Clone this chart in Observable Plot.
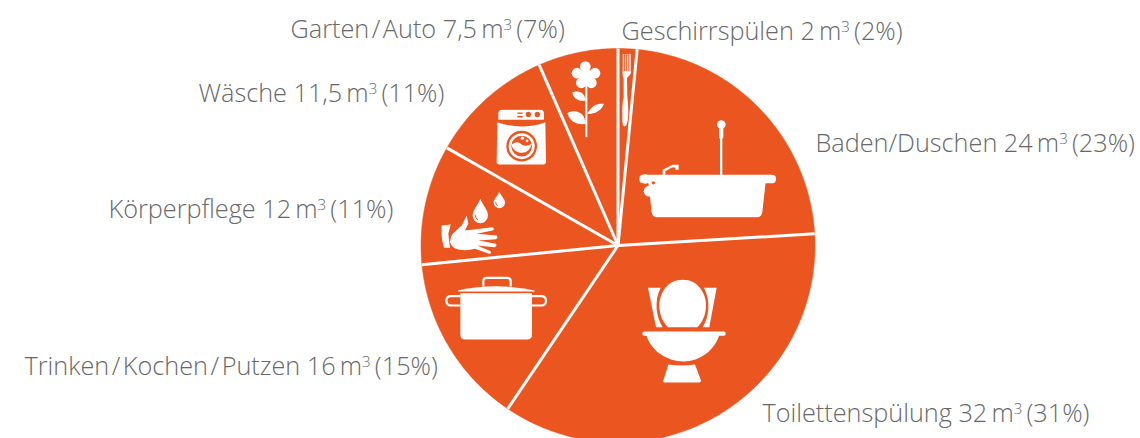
<!DOCTYPE html>
<html>
<head>
<meta charset="utf-8">
<script src="https://cdn.jsdelivr.net/npm/d3@7"></script>
<script src="https://cdn.jsdelivr.net/npm/@observablehq/plot@0.6"></script>
<style>html,body{margin:0;padding:0;background:#fff;overflow:hidden}svg{display:block}</style>
</head>
<body>
<div id="chart"></div>
<script>
const categories = ["Geschirrspülen","Baden/Duschen","Toilettenspülung","Trinken\u200a/\u200aKochen\u200a/\u200aPutzen","Körperpflege","Wäsche","Garten\u200a/\u200aAuto"];
const volumes = ["2","24","32","16","12","11,5","7,5"];
const percents = [2,23,31,15,11,11,7];
// share of the circle each slice takes in the picture (per cent of the full turn)
const drawnShares = [1.55,22.5,35.4,14.0,9.8,10.2,6.55];

// layout, kept apart from the data: label start in page pixels
const labelX = [621,815,762,24,108,198,290];
const labelY = [31,143,413,366,209,93,29];
const cx = 617.5, cy = 245, radius = 197;
const orange = "#EB551F", grey = "#686868";

const pie = d3.pie().sort(null).value(d => d)(drawnShares);
const slices = pie.map((a, i) => ({...a, i}));
const polar = (ang, r) => ({px: r * Math.sin(ang), py: r * Math.cos(ang)});

const outline = slices.flatMap(s => {
  const n = Math.ceil((s.endAngle - s.startAngle) / 0.01);
  const pts = [{i: s.i, ...polar(0, 0)}];
  for (let k = 0; k <= n; k++) pts.push({i: s.i, ...polar(s.startAngle + (s.endAngle - s.startAngle) * k / n, radius)});
  return pts;
});
const spokes = slices.map(s => polar(s.startAngle, radius));

const labels = slices.map((s, i) => ({
  text: `${categories[i]} ${volumes[i]}\u2009m³\u2009(${percents[i]}%)`,
  x: labelX[i] - cx, y: cy - labelY[i]
}));

// icons drawn in the pixel grid of 3x crops: [cropX, cropY, svg, boxX, boxY, boxW, boxH]
const W = "#fff", O = orange;
const icons = [
 [480,40,`<g fill="${W}"><rect x="428" y="40" width="4" height="58"/><rect x="434.500" y="40" width="4" height="58"/><rect x="441" y="40" width="4" height="58"/><rect x="448" y="40" width="4" height="58"/><path d="M427 92H453C453 106 443 106 441 114L442 170C447 205 446 258 434 258C423 258 422 205 431 170L431 114C428 106 427 106 427 92Z"/></g>`, 427,38,28,222],
 [480,40,`<g fill="${W}"><rect x="316" y="130" width="6" height="160"/><circle cx="316" cy="78" r="16"/><circle cx="291" cy="98" r="16"/><circle cx="345" cy="98" r="16"/><circle cx="304" cy="127" r="16"/><circle cx="334" cy="127" r="16"/><circle cx="318" cy="105" r="20"/><path d="M316 180C295 185 278 170 277 155C295 150 315 155 316 180Z"/><path d="M322 220C335 192 355 188 372 190C365 210 345 222 322 220Z"/><path d="M317 250C290 255 268 240 262 218C285 205 315 215 317 250Z"/></g>`, 260,60,114,232],
 [480,40,`<path fill="${W}" d="M55 238V220Q55 208 67 208H180Q192 208 192 220V238Z"/><path fill="${W}" d="M52 245Q90 258 125 258Q160 258 196 245L198 364Q198 372 190 372H58Q50 372 50 364Z"/><g fill="${O}"><circle cx="145" cy="222" r="8"/><circle cx="172" cy="222" r="8"/><rect x="112" y="216" width="16" height="4"/><rect x="112" y="226" width="16" height="5"/><circle cx="125" cy="317" r="46"/></g><circle cx="125" cy="317" r="39" fill="${W}"/><circle cx="125" cy="317" r="31" fill="${O}"/><path fill="${W}" d="M94 313Q108 300 120 308Q135 322 155 310A31 31 0 0 1 94 313Z"/><circle cx="127" cy="293" r="5" fill="${W}"/><circle cx="141" cy="301" r="4" fill="${W}"/>`, 48,206,152,168],
 [480,40,`<g fill="${W}"><rect x="478" y="403" width="410" height="25" rx="12"/><circle cx="495" cy="415" r="14"/><circle cx="507" cy="452" r="16"/><path d="M504 415L515 515Q517 530 532 530H830Q845 530 847 515L858 415Z"/><rect x="720" y="262" width="7" height="142"/><rect x="717" y="258" width="13" height="36" rx="4"/><circle cx="724" cy="252" r="13"/><path d="M548 405V388L578 373H596V388H586V381H575L556 392V405Z"/></g><circle cx="520" cy="427" r="5" fill="${O}"/>`, 476,238,414,294],
 [420,190,`<g fill="${W}"><path d="M788 268C835 268 858 310 858 345C858 375 845 398 832 410H744C731 398 718 375 718 345C718 310 741 268 788 268Z"/><path d="M684 292H722C702 330 708 380 728 410H708Z"/><path d="M890 292H852C872 330 868 380 848 410H868Z"/><rect x="667" y="423" width="250" height="13" rx="6"/><path d="M678 430C690 480 740 513 790 513C840 513 885 480 899 430Z"/><path d="M745 522Q785 528 825 522L843 570Q843 576 838 576H735Q728 576 730 570Z"/></g>`, 664,266,256,312],
 [420,190,`<g fill="${W}"><path d="M121 308H336V432Q336 447 321 447H136Q121 447 121 432Z"/><path d="M114 300Q230 275 344 300V303H114Z"/></g><g fill="none" stroke="${W}" stroke-width="6.500"><path d="M190 288V272Q190 262 200 262H262Q272 262 272 272V288"/><path d="M121 317H93Q79 317 79 331Q79 345 93 345H121"/><path d="M336 317H364Q378 317 378 331Q378 345 364 345H336"/></g>`, 74,256,310,194],
 [420,190,`<g fill="${W}"><path d="M65 105L92 102L85 130L90 172L72 172Q62 140 65 105Z"/><path d="M98 130L125 105L140 75L145 100L135 120L218 110Q225 115 218 120L170 130L230 135Q236 142 228 146L175 150L228 160Q232 168 224 170L172 165L212 182Q215 190 207 190L165 175Q140 182 115 177Q95 172 90 155Q90 140 98 130Z"/><path d="M181 25C190 48 204 58 204 75A23 23 0 0 1 158 75C158 58 172 48 181 25Z"/><path d="M238 3C245 20 255 25 255 36A17 17 0 0 1 221 36C221 25 231 20 238 3Z"/></g><g fill="none" stroke="${O}" stroke-width="3"><path d="M166 74Q166 84 174 88"/><path d="M227 34Q227 42 233 46"/></g>`, 60,0,200,194]
].map(d => {
  const [ox, oy, svg, bx, by, bw, bh] = d;
  return {
    x: ox + (bx + bw / 2) / 3 - 618,
    y: cy - (oy + (by + bh / 2) / 3),
    w: bw / 3, h: bh / 3,
    src: "data:image/svg+xml," + encodeURIComponent(`<svg xmlns="http://www.w3.org/2000/svg" width="${bw}" height="${bh}" viewBox="${bx} ${by} ${bw} ${bh}">${svg}</svg>`)
  };
});

const plot = Plot.plot({
  width: 1140, height: 438,
  margin: 0,
  style: {background: "#fff"},
  x: {domain: [-cx, 1140 - cx], range: [0, 1140], axis: null},
  y: {domain: [cy, cy - 438], range: [0, 438], axis: null},
  marks: [
    Plot.line(outline, {x: "px", y: "py", z: "i", fill: orange, stroke: orange, strokeWidth: 0.5, curve: "linear"}),
    Plot.link(spokes, {x1: () => 0, y1: () => 0, x2: "px", y2: "py", stroke: "#fff", strokeWidth: 3}),
    Plot.image(icons, {x: "x", y: "y", width: "w", height: "h", src: d => d.src}),
    Plot.text(labels, {x: "x", y: "y", text: "text", textAnchor: "start", lineAnchor: "middle",
      fill: grey, fontSize: 25.25, fontFamily: "'Open Sans'", fontWeight: 300})
  ]
});
// set the cube sign as a small raised figure, as in the reference
d3.select(plot).selectAll("text").filter(function () { return this.textContent.includes("³"); }).each(function () {
  const [before, after] = this.textContent.split("³");
  const t = d3.select(this).text(before);
  t.append("tspan").attr("dy", -8).attr("font-size", 15).text("3");
  t.append("tspan").attr("dy", 8).text(after);
});
document.getElementById("chart").appendChild(plot);
</script>
</body>
</html>
